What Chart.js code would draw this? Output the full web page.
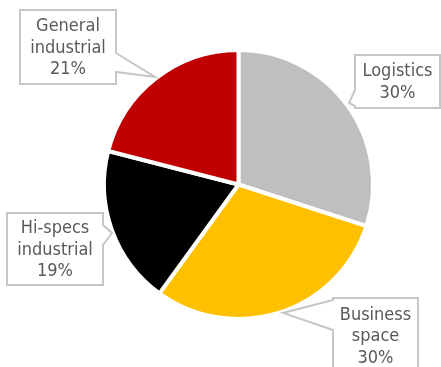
<!DOCTYPE html>
<html>
<head>
<meta charset="utf-8">
<script src="https://cdn.jsdelivr.net/npm/chart.js@4/dist/chart.umd.min.js"></script>
<style>
  html, body { margin: 0; padding: 0; background: #ffffff; }
  #wrap { width: 441px; height: 367px; }
</style>
</head>
<body>
<div id="wrap"><canvas id="c" width="441" height="367"></canvas></div>
<script>
// Segment names (one entry per text line) and their shares in percent
const categories = [
  ['Logistics'],
  ['Business', 'space'],
  ['Hi-specs', 'industrial'],
  ['General', 'industrial']
];
const shares = [30, 30, 19, 21];
const sliceColors = ['#BFBFBF', '#FFC000', '#000000', '#C00000'];

// Callout boxes: rectangle plus a pointed tail on one side
const callouts = [
  { box: [355, 55, 85, 53],  tail: [[355, 90], [349, 103], [355, 106]], side: 'left' },
  { box: [333, 298, 85, 82], tail: [[333, 300], [283, 313], [333, 330]], side: 'left' },
  { box: [7, 213, 96, 72],   tail: [[103, 225], [112, 233], [103, 245]], side: 'right' },
  { box: [20, 10, 96, 74],   tail: [[116, 53], [155, 77], [116, 72]], side: 'right' }
];

const calloutPlugin = {
  id: 'callouts',
  afterDraw(chart) {
    const ctx = chart.ctx;
    ctx.save();
    callouts.forEach((c, i) => {
      const [x, y, w, h] = c.box;
      const t = c.tail;
      ctx.beginPath();
      if (c.side === 'left') {
        ctx.moveTo(x, y);
        ctx.lineTo(x + w, y);
        ctx.lineTo(x + w, y + h);
        ctx.lineTo(x, y + h);
        ctx.lineTo(t[2][0], t[2][1]);
        ctx.lineTo(t[1][0], t[1][1]);
        ctx.lineTo(t[0][0], t[0][1]);
        ctx.closePath();
      } else {
        ctx.moveTo(x, y);
        ctx.lineTo(x + w, y);
        ctx.lineTo(t[0][0], t[0][1]);
        ctx.lineTo(t[1][0], t[1][1]);
        ctx.lineTo(t[2][0], t[2][1]);
        ctx.lineTo(x + w, y + h);
        ctx.lineTo(x, y + h);
        ctx.closePath();
      }
      ctx.fillStyle = '#ffffff';
      ctx.fill();
      ctx.lineWidth = 2;
      ctx.strokeStyle = '#C6C6C6';
      ctx.stroke();

      const lines = categories[i].concat([shares[i] + '%']);
      const lh = 21.5;
      const cx = x + w / 2;
      const top = (i === 1) ? y + 17 : y + h / 2 - (lines.length - 1) * lh / 2 + 1;
      ctx.fillStyle = '#595959';
      ctx.font = '18px "DejaVu Sans", sans-serif';
      if ('fontStretch' in ctx) ctx.fontStretch = 'condensed';
      ctx.textAlign = 'center';
      ctx.textBaseline = 'middle';
      lines.forEach((s, k) => ctx.fillText(s, cx, top + k * lh));
    });
    ctx.restore();
  }
};

new Chart(document.getElementById('c'), {
  type: 'pie',
  data: {
    labels: categories.map(l => l.join(' ')),
    datasets: [{
      data: shares,
      backgroundColor: sliceColors,
      borderColor: '#ffffff',
      borderWidth: 4,
      radius: 134.5
    }]
  },
  options: {
    responsive: false,
    animation: false,
    layout: { padding: { left: 104, right: 68, top: 50, bottom: 48 } },
    plugins: {
      legend: { display: false },
      tooltip: { enabled: false }
    }
  },
  plugins: [calloutPlugin]
});
</script>
</body>
</html>
